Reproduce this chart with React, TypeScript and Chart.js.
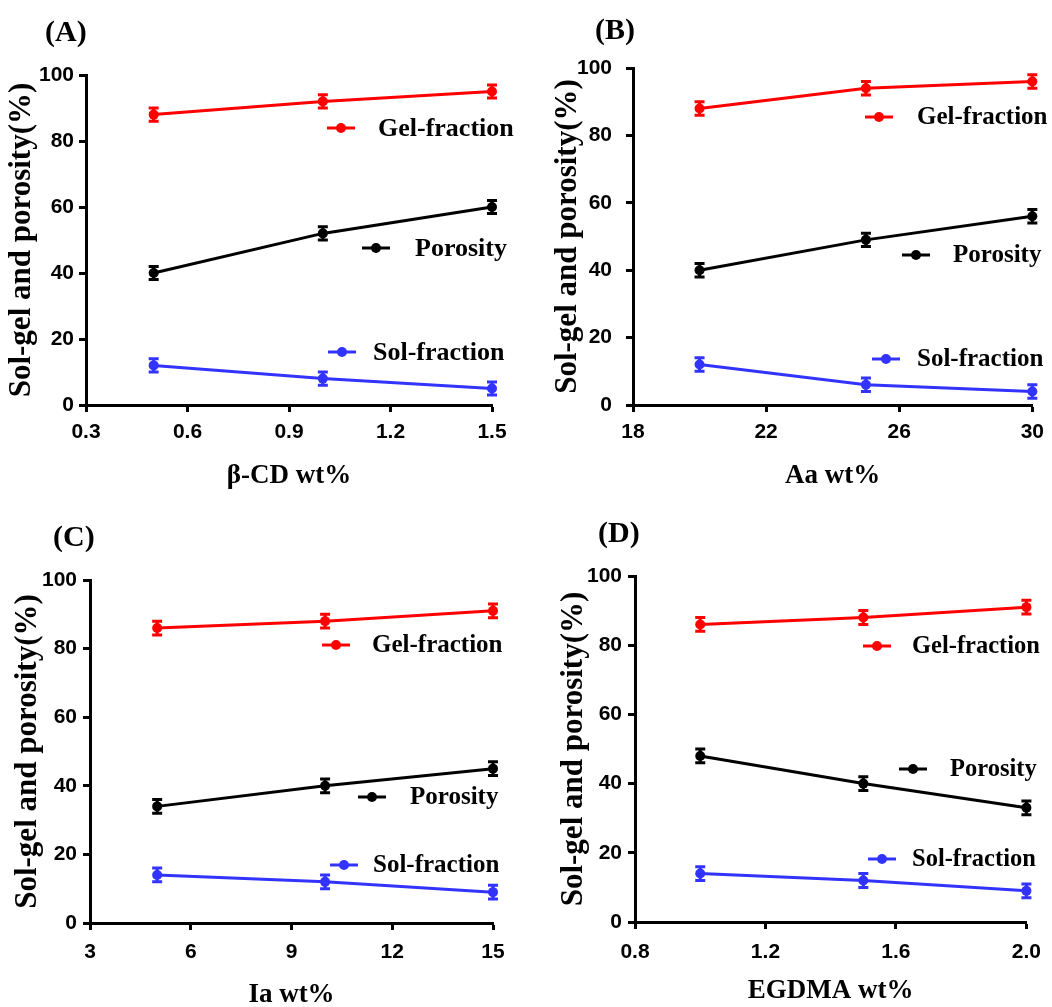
import React, { useEffect, useRef } from "react";
import { Chart, registerables } from "chart.js";

Chart.register(...registerables);

// ---------- data ----------
const seriesNames = ["Gel-fraction", "Porosity", "Sol-fraction"];
const seriesColors = ["#ff0000", "#000000", "#3333ff"];

const panelLabels = ["(A)", "(B)", "(C)", "(D)"];
const xAxisTitles = ["β-CD wt%", "Aa wt%", "Ia wt%", "EGDMA wt%"];
const yAxisTitle = "Sol-gel and porosity(%)";

const yTicks = [0, 20, 40, 60, 80, 100];
const yTickLabels = ["0", "20", "40", "60", "80", "100"];

// (A) beta-CD
const xValuesA = [0.5, 1.0, 1.5];
const gelA = [88, 92, 95];
const porosityA = [40, 52, 60];
const solA = [12, 8, 5];
const gelErrA = [2, 2, 2];
const porosityErrA = [2, 2, 2];
const solErrA = [2, 2, 2];
const xTicksA = [0.3, 0.6, 0.9, 1.2, 1.5];
const xTickLabelsA = ["0.3", "0.6", "0.9", "1.2", "1.5"];

// (B) Aa
const xValuesB = [20, 25, 30];
const gelB = [88, 94, 96];
const porosityB = [40, 49, 56];
const solB = [12, 6, 4];
const gelErrB = [2, 2, 2];
const porosityErrB = [2, 2, 2];
const solErrB = [2, 2, 2];
const xTicksB = [18, 22, 26, 30];
const xTickLabelsB = ["18", "22", "26", "30"];

// (C) Ia
const xValuesC = [5, 10, 15];
const gelC = [86, 88, 91];
const porosityC = [34, 40, 45];
const solC = [14, 12, 9];
const gelErrC = [2, 2, 2];
const porosityErrC = [2, 2, 2];
const solErrC = [2, 2, 2];
const xTicksC = [3, 6, 9, 12, 15];
const xTickLabelsC = ["3", "6", "9", "12", "15"];

// (D) EGDMA
const xValuesD = [1.0, 1.5, 2.0];
const gelD = [86, 88, 91];
const porosityD = [48, 40, 33];
const solD = [14, 12, 9];
const gelErrD = [2, 2, 2];
const porosityErrD = [2, 2, 2];
const solErrD = [2, 2, 2];
const xTicksD = [0.8, 1.2, 1.6, 2.0];
const xTickLabelsD = ["0.8", "1.2", "1.6", "2.0"];

// ---------- panel assembly ----------
const panels = [
  { xs: xValuesA, values: [gelA, porosityA, solA], errs: [gelErrA, porosityErrA, solErrA], xTicks: xTicksA, xTickLabels: xTickLabelsA },
  { xs: xValuesB, values: [gelB, porosityB, solB], errs: [gelErrB, porosityErrB, solErrB], xTicks: xTicksB, xTickLabels: xTickLabelsB },
  { xs: xValuesC, values: [gelC, porosityC, solC], errs: [gelErrC, porosityErrC, solErrC], xTicks: xTicksC, xTickLabels: xTickLabelsC },
  { xs: xValuesD, values: [gelD, porosityD, solD], errs: [gelErrD, porosityErrD, solErrD], xTicks: xTicksD, xTickLabels: xTickLabelsD },
];

// layout (pixels)
const layouts = [
  { left: 0, top: 0, width: 526, height: 500, padLeft: 0, padRight: 34, padTop: 75, yAxisWidth: 86, xAxisHeight: 95, yTickPad: 5, xTickPad: 8, xTitlePad: 8, labelX: 45, labelY: 33, legendFont: 26,
    legend: [ { dx: 241, dy: 53, tx: 292 }, { dx: 276, dy: 173, tx: 329 }, { dx: 242, dy: 277, tx: 287 } ] },
  { left: 526, top: 0, width: 526, height: 500, padLeft: 20, padRight: 14, padTop: 68, yAxisWidth: 87, xAxisHeight: 95, yTickPad: 14, xTickPad: 8, xTitlePad: 8, labelX: 69, labelY: 31, legendFont: 25,
    legend: [ { dx: 232, dy: 49, tx: 284 }, { dx: 269, dy: 187, tx: 320 }, { dx: 239, dy: 291, tx: 284 } ] },
  { left: 0, top: 500, width: 526, height: 515, padLeft: 6, padRight: 33, padTop: 80, yAxisWidth: 84, xAxisHeight: 92, yTickPad: 6, xTickPad: 10, xTitlePad: 4, labelX: 53, labelY: 38, legendFont: 25,
    legend: [ { dx: 232, dy: 65, tx: 282 }, { dx: 268, dy: 217, tx: 320 }, { dx: 240, dy: 285, tx: 283 } ] },
  { left: 526, top: 500, width: 526, height: 515, padLeft: 26, padRight: 22, padTop: 76, yAxisWidth: 83, xAxisHeight: 93, yTickPad: 6, xTickPad: 11, xTitlePad: 8, labelX: 72, labelY: 34, legendFont: 24.5,
    legend: [ { dx: 228, dy: 70, tx: 277 }, { dx: 264, dy: 193, tx: 315 }, { dx: 233, dy: 283, tx: 277 } ] },
];

const SERIF = '"Liberation Serif", "Times New Roman", serif';
const SANS = '"Liberation Sans", Arial, sans-serif';

function Panel({ index }: { index: number }) {
  const ref = useRef<HTMLCanvasElement | null>(null);
  const p = panels[index];
  const L = layouts[index];

  useEffect(() => {
    const canvas = ref.current;
    if (!canvas) return;

    const errorBarPlugin = {
      id: "errorBars",
      afterDatasetsDraw(chart: any) {
        const ctx = chart.ctx;
        const yScale = chart.scales.y;
        chart.data.datasets.forEach((_ds: any, di: number) => {
          const meta = chart.getDatasetMeta(di);
          const errs = p.errs[di];
          ctx.save();
          ctx.strokeStyle = seriesColors[di];
          ctx.lineWidth = 3;
          meta.data.forEach((pt: any, i: number) => {
            const v = p.values[di][i];
            const e = errs[i];
            const yTop = yScale.getPixelForValue(v + e);
            const yBot = yScale.getPixelForValue(v - e);
            const x = pt.x;
            ctx.beginPath();
            ctx.moveTo(x, yTop);
            ctx.lineTo(x, yBot);
            ctx.moveTo(x - 5, yTop);
            ctx.lineTo(x + 5, yTop);
            ctx.moveTo(x - 5, yBot);
            ctx.lineTo(x + 5, yBot);
            ctx.stroke();
          });
          ctx.restore();
        });
      },
    };

    const annotationPlugin = {
      id: "panelAnnotations",
      afterDraw(chart: any) {
        const ctx = chart.ctx;
        const area = chart.chartArea;
        ctx.save();
        // in-plot legend
        L.legend.forEach((item, i) => {
          const x0 = area.left + item.dx;
          const y0 = area.top + item.dy;
          ctx.strokeStyle = seriesColors[i];
          ctx.fillStyle = seriesColors[i];
          ctx.lineWidth = 3;
          ctx.beginPath();
          ctx.moveTo(x0, y0);
          ctx.lineTo(x0 + 28, y0);
          ctx.stroke();
          ctx.beginPath();
          ctx.arc(x0 + 14, y0, 5, 0, Math.PI * 2);
          ctx.fill();
          ctx.fillStyle = "#000";
          ctx.font = `bold ${L.legendFont}px ${SERIF}`;
          ctx.textAlign = "left";
          ctx.textBaseline = "middle";
          ctx.fillText(seriesNames[i], area.left + item.tx, y0 + 1);
        });
        // panel label
        ctx.fillStyle = "#000";
        ctx.font = `bold 30px ${SERIF}`;
        ctx.textAlign = "left";
        ctx.textBaseline = "middle";
        ctx.fillText(panelLabels[index], L.labelX, L.labelY);
        ctx.restore();
      },
    };

    const tickFont = { family: SANS, size: 21, weight: "bold" as const };

    const chart = new Chart(canvas, {
      type: "line",
      data: {
        datasets: p.values.map((vals, di) => ({
          label: seriesNames[di],
          data: vals.map((v, j) => ({ x: p.xs[j], y: v })),
          borderColor: seriesColors[di],
          backgroundColor: seriesColors[di],
          pointBackgroundColor: seriesColors[di],
          pointBorderColor: seriesColors[di],
          borderWidth: 3,
          pointRadius: 5,
          pointBorderWidth: 0,
          tension: 0,
          clip: false as any,
        })),
      },
      options: {
        animation: false,
        responsive: false,
        devicePixelRatio: 1,
        layout: { padding: { left: L.padLeft, right: L.padRight, top: L.padTop, bottom: 0 } },
        plugins: {
          legend: { display: false },
          tooltip: { enabled: false },
          title: { display: false },
        },
        scales: {
          x: {
            type: "linear",
            min: p.xTicks[0],
            max: p.xTicks[p.xTicks.length - 1],
            afterBuildTicks: (scale: any) => {
              scale.ticks = p.xTicks.map((v) => ({ value: v }));
            },
            afterFit: (scale: any) => {
              scale.height = L.xAxisHeight;
            },
            ticks: {
              callback: (_v: any, i: number) => p.xTickLabels[i],
              font: tickFont,
              color: "#000",
              padding: L.xTickPad,
              maxRotation: 0,
              autoSkip: false,
            },
            grid: { drawOnChartArea: false, drawTicks: true, tickLength: 7, tickWidth: 3, tickColor: "#000" },
            border: { display: true, width: 3, color: "#000" },
            title: {
              display: true,
              text: xAxisTitles[index],
              color: "#000",
              font: { family: SERIF, size: 27, weight: "bold" },
              padding: { top: 0, bottom: L.xTitlePad },
            },
          },
          y: {
            type: "linear",
            min: yTicks[0],
            max: yTicks[yTicks.length - 1],
            afterBuildTicks: (scale: any) => {
              scale.ticks = yTicks.map((v) => ({ value: v }));
            },
            afterFit: (scale: any) => {
              scale.width = L.yAxisWidth;
            },
            ticks: {
              callback: (_v: any, i: number) => yTickLabels[i],
              font: tickFont,
              color: "#000",
              padding: L.yTickPad,
              autoSkip: false,
            },
            grid: { drawOnChartArea: false, drawTicks: true, tickLength: 7, tickWidth: 3, tickColor: "#000" },
            border: { display: true, width: 3, color: "#000" },
            title: {
              display: true,
              text: yAxisTitle,
              color: "#000",
              font: { family: SERIF, size: 31, weight: "bold" },
              padding: { top: 3, bottom: 0 },
            },
          },
        },
      },
      plugins: [errorBarPlugin, annotationPlugin],
    } as any);

    return () => {
      chart.destroy();
    };
  }, [index]);

  return (
    <canvas
      ref={ref}
      width={L.width}
      height={L.height}
      style={{ position: "absolute", left: L.left, top: L.top, width: L.width, height: L.height }}
    />
  );
}

export default function App() {
  return (
    <div
      style={{
        position: "fixed",
        left: 0,
        top: 0,
        width: 1052,
        height: 1007,
        overflow: "hidden",
        background: "#ffffff",
      }}
    >
      {[0, 1, 2, 3].map((i) => (
        <Panel key={i} index={i} />
      ))}
    </div>
  );
}
